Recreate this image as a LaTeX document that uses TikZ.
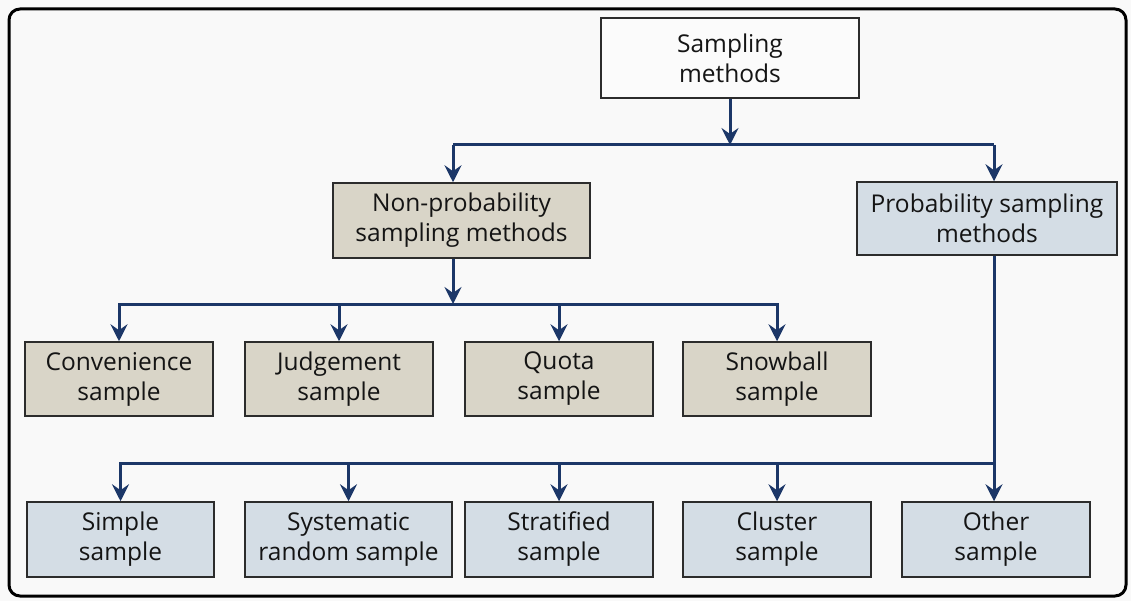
\documentclass[tikz,border=0pt]{standalone}
\usepackage{fontspec}
\setmainfont{Open Sans}
\usetikzlibrary{arrows.meta}
\definecolor{paper}{HTML}{F9F9F9}
\definecolor{navy}{HTML}{1C3768}
\definecolor{tanfill}{HTML}{D9D5C8}
\definecolor{bluefill}{HTML}{D4DDE5}
\definecolor{rootfill}{HTML}{FBFBFB}
\definecolor{ink}{HTML}{141414}
\begin{document}
\begin{tikzpicture}[x=1pt,y=-1pt,
  box/.style={draw=ink!90, line width=1.5pt, align=center, inner sep=0pt,
    text=ink, font=\fontsize{24.5}{30}\selectfont, minimum height=75pt},
  rootbox/.style={box, fill=rootfill, minimum width=258pt, minimum height=80pt},
  nonprob/.style={box, fill=tanfill},
  prob/.style={box, fill=bluefill},
  wire/.style={draw=navy, line width=3pt},
  link/.style={wire, -{Stealth[length=17pt,width=17pt,inset=6pt]}}]
\useasboundingbox (0,0) rectangle (1131,601);
\fill[paper] (0,0) rectangle (1131,601);
\draw[line width=3pt, rounded corners=11pt] (9,9) rectangle (1126,596);

% top level
\node[rootbox] (root) at (730,58) {Sampling\\methods};
\node[nonprob, minimum width=257pt] (np) at (461.5,220.5) {Non-probability\\sampling methods};
\node[prob, minimum width=260pt, minimum height=73pt] (pr) at (987,218.5) {Probability sampling\\methods};

% non-probability samples
\node[nonprob, minimum width=188pt, minimum height=74pt] (conv) at (119,379) {Convenience\\sample};
\node[nonprob, minimum width=188pt, minimum height=74pt] (judg) at (339,379) {Judgement\\sample};
\node[nonprob, minimum width=188pt, minimum height=74pt] (quota) at (559,379) {Quota\\sample};
\node[nonprob, minimum width=188pt, minimum height=74pt] (snow) at (777,379) {Snowball\\sample};

% probability samples
\node[prob, minimum width=187pt] (simple) at (120.5,539.5) {Simple\\sample};
\node[prob, minimum width=207pt] (syst) at (348.5,539.5) {Systematic\\random sample};
\node[prob, minimum width=188pt] (strat) at (559,539.5) {Stratified\\sample};
\node[prob, minimum width=188pt] (clus) at (777,539.5) {Cluster\\sample};
\node[prob, minimum width=188pt] (other) at (996,539.5) {Other\\sample};

% junction points of the buses
\coordinate (b1l) at (453,145);
\coordinate (b1r) at (994,145);
\coordinate (b2) at (453,304);
\coordinate (b3) at (994,463);

% first split
\draw[link] (root.south) -- (root.south |- b1l);
\draw[wire] (b1l) -- (b1r);
\draw[link] (b1l) -- (b1l |- np.north);
\draw[link] (b1r) -- (b1r |- pr.north);

% non-probability branch
\draw[link] (np.south -| b2) -- (b2);
\draw[link] (b2) -| (conv.north);
\draw[link] (b2) -| (snow.north);
\draw[link] (judg.north |- b2) -- (judg.north);
\draw[link] (quota.north |- b2) -- (quota.north);

% probability branch
\draw[link] (pr.south -| b3) -- (b3 |- other.north);
\draw[link] (b3) -| (simple.north);
\draw[link] (syst.north |- b3) -- (syst.north);
\draw[link] (strat.north |- b3) -- (strat.north);
\draw[link] (clus.north |- b3) -- (clus.north);
\end{tikzpicture}
\end{document}
